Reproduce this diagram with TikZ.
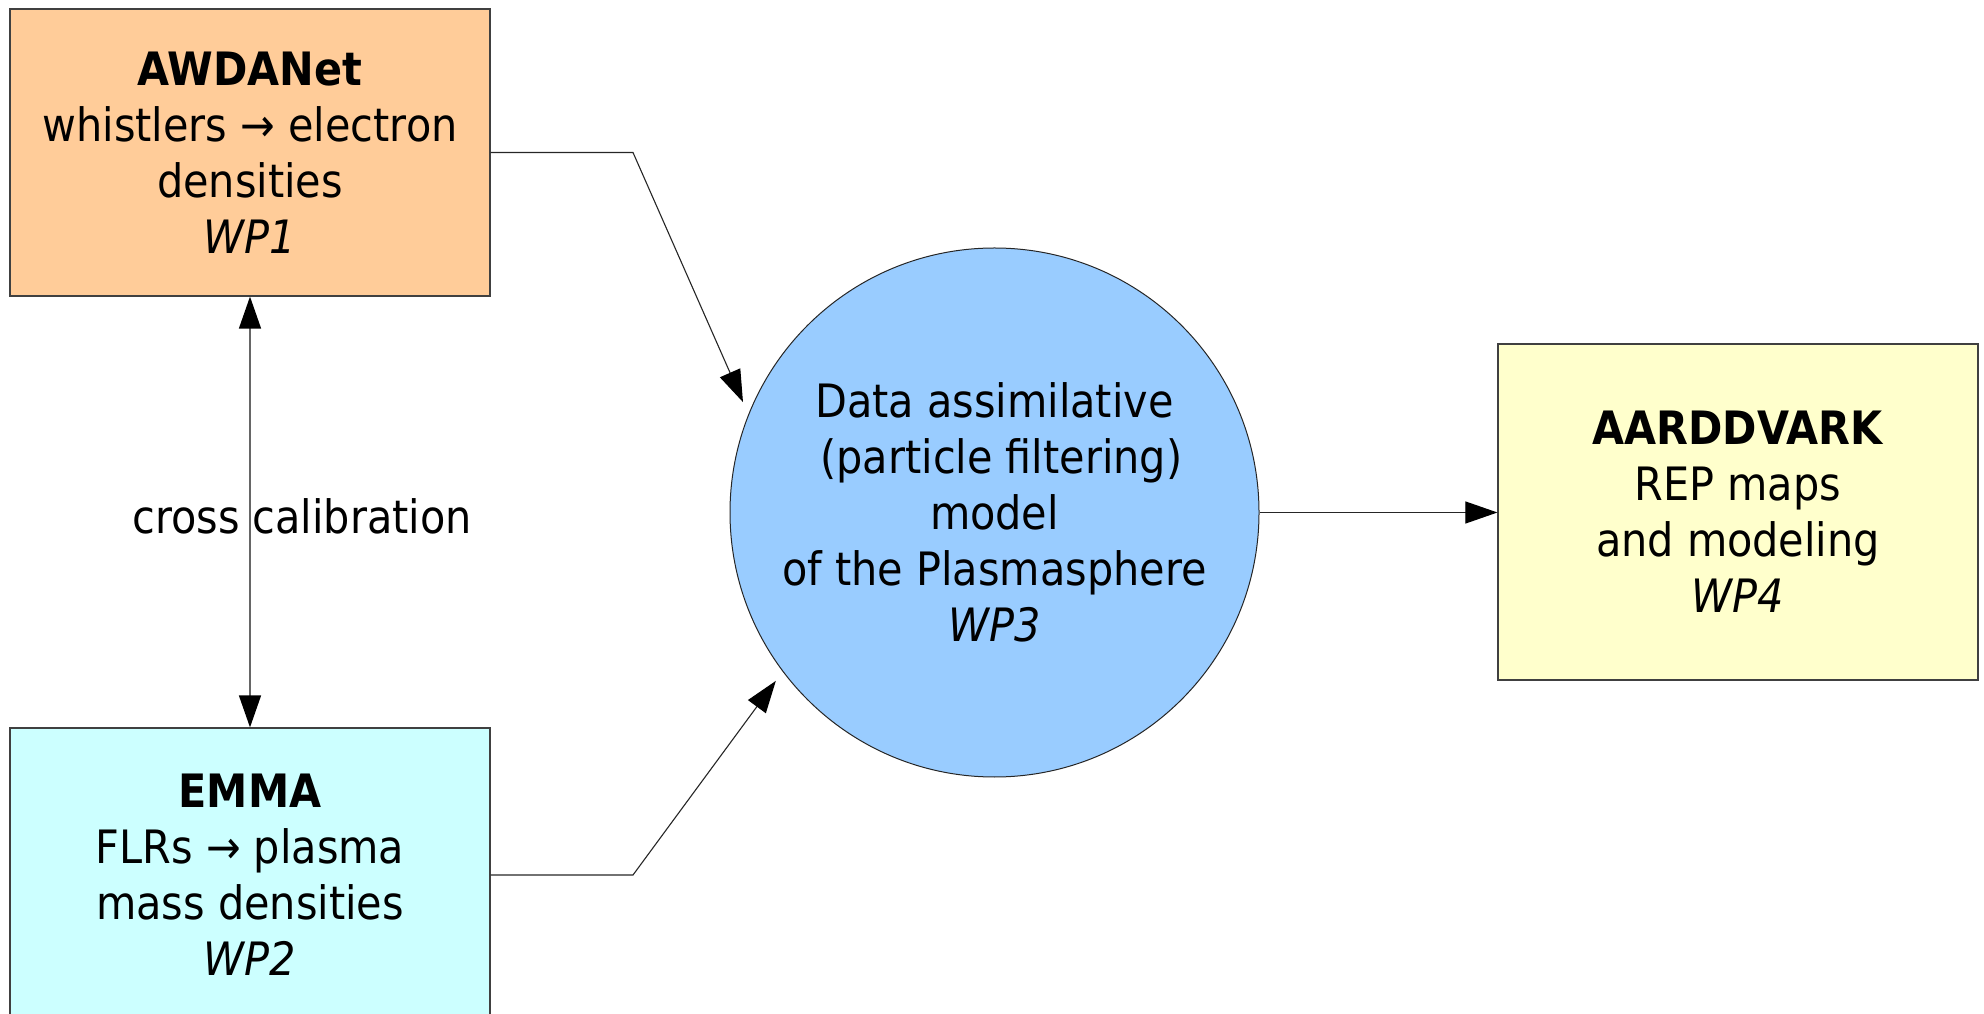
\documentclass[tikz,border=0pt]{standalone}
\usepackage{fontspec}
\setmainfont{DejaVu Sans Condensed}
\usetikzlibrary{arrows.meta,calc}
\definecolor{awdfill}{HTML}{FFCC99}
\definecolor{emmafill}{HTML}{CCFFFF}
\definecolor{aarfill}{HTML}{FFFFCC}
\definecolor{circfill}{HTML}{99CCFF}
\begin{document}
\begin{tikzpicture}[x=1pt,y=1pt,
  txt/.style={font=\fontsize{46}{56}\selectfont, text=black, align=center},
  box/.style={txt, draw=black!75, line width=1.2pt, minimum width=480pt, inner sep=0pt},
  tip/.tip={Triangle[length=32pt,width=22pt,color=black]},
  conn/.style={draw=black!85, line width=1.1pt, -tip},
  dconn/.style={draw=black!60, line width=1.3pt, tip-tip}]
\useasboundingbox (0,0) rectangle (1984,1013);
\node[box, fill=awdfill, minimum height=287pt] (aw) at (250,860.5)
  {\textbf{AWDANet}\\whistlers → electron\\densities\\\textit{WP1}};
\node[box, fill=emmafill, minimum height=294pt] (em) at (250,138)
  {\textbf{EMMA}\\FLRs → plasma\\mass densities\\\textit{WP2}};
\node[box, fill=aarfill, minimum height=336pt] (aa) at (1738,501)
  {\textbf{AARDDVARK}\\REP maps\hspace*{0.3em}\\and modeling\\\textit{WP4}};
\node[txt, circle, draw=black!85, line width=1pt, fill=circfill, minimum size=529pt, inner sep=0pt] (circ) at (994.5,500.5)
  {Data assimilative\\\hspace*{0.3em}(particle filtering)\\model\\of the Plasmasphere\\\textit{WP3}};
\coordinate (b1) at (633,0);
\coordinate (t1) at ($(circ.center)+(156.3:274.7)$);
\coordinate (t2) at ($(circ.center)+(217.6:276)$);
\draw[conn] (aw.east) -- (aw.east -| b1) -- (t1);
\draw[conn] (em.east) -- (em.east -| b1) -- (t2);
\draw[conn] (circ.east) -- (aa.west |- circ.east);
\draw[dconn] (aw.south) -- (em.north);
\node[txt, inner sep=0pt] (cc) at (302,497) {cross calibration};
\end{tikzpicture}
\end{document}
